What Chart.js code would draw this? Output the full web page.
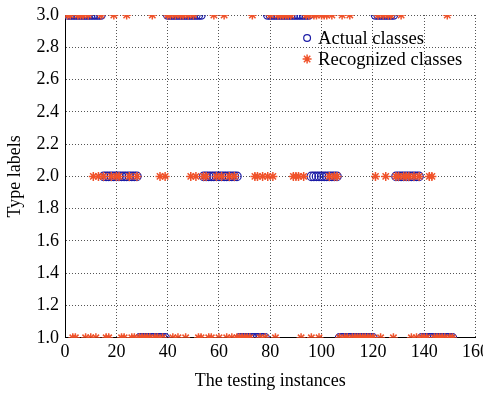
<!DOCTYPE html>
<html>
<head>
<meta charset="utf-8">
<script src="https://cdn.jsdelivr.net/npm/chart.js@4"></script>
<style>
  html, body { margin: 0; padding: 0; background: #fff; overflow: hidden; }
  #wrap { width: 493px; height: 393px; }
</style>
</head>
<body>
<div id="wrap"><canvas id="classChart"></canvas></div>
<script>
// Class of each testing instance (instance number = position + 1)
const actualClasses = [
    3,3,3,3,3,3,3,3,3,3,
    3,3,3,3,2,2,2,2,2,2,
    2,2,2,2,2,2,2,2,1,1,
    1,1,1,1,1,1,1,1,1,3,
    3,3,3,3,3,3,3,3,3,3,
    3,3,3,2,2,2,2,2,2,2,
    2,2,2,2,2,2,2,1,1,1,
    1,1,1,1,1,1,1,1,3,3,
    3,3,3,3,3,3,3,3,3,3,
    3,3,3,3,3,2,2,2,2,2,
    2,2,2,2,2,2,1,1,1,1,
    1,1,1,1,1,1,1,1,1,1,
    3,3,3,3,3,3,3,3,2,2,
    2,2,2,2,2,2,2,2,1,1,
    1,1,1,1,1,1,1,1,1,1,
    1
];

const recognizedClasses = [
    3,3,1,1,3,3,3,1,3,1,
    2,1,2,3,2,1,1,2,3,2,
    2,1,1,3,2,1,1,2,1,1,
    1,1,1,3,1,1,2,1,2,3,
    3,1,3,1,3,3,1,3,2,3,
    2,1,1,2,2,1,1,3,2,1,
    2,3,1,2,1,2,1,1,1,1,
    1,1,3,2,2,1,2,1,2,3,
    2,1,3,3,3,3,3,3,2,2,
    2,1,2,3,3,1,3,3,1,3,
    3,3,2,3,2,2,1,3,1,1,
    3,1,1,1,1,1,1,1,1,1,
    2,3,1,3,2,3,3,1,2,2,
    3,2,2,2,1,2,1,2,1,1,
    1,2,2,1,1,1,1,1,3,1,
    1
];

const seriesNames = ['Actual classes', 'Recognized classes'];
const xTicks = [0, 20, 40, 60, 80, 100, 120, 140, 160];
const yTicks = [1.0, 1.2, 1.4, 1.6, 1.8, 2.0, 2.2, 2.4, 2.6, 2.8, 3.0];

const blue = '#1c1ca6';
const red = '#f0522a';
const serif = '"Liberation Serif", "Times New Roman", serif';

function toPoints(classes) {
    return classes.map((c, i) => ({ x: i + 1, y: c }));
}

// Legend drawn inside the plot area, top right, without a frame
const insideLegend = {
    id: 'insideLegend',
    afterDatasetsDraw(chart) {
        const ctx = chart.ctx;
        const area = chart.chartArea;
        const x = area.left + 242;
        const rows = [area.top + 23, area.top + 44];
        ctx.save();
        ctx.textBaseline = 'middle';
        chart.data.datasets.forEach((ds, i) => {
            ctx.fillStyle = ds.backgroundColor;
            ctx.strokeStyle = ds.borderColor;
            ctx.lineWidth = ds.borderWidth;
            Chart.helpers.drawPoint(ctx, {
                pointStyle: ds.pointStyle,
                radius: i === 0 ? 3.4 : ds.pointRadius,
                borderWidth: ds.borderWidth
            }, x, rows[i]);
            ctx.font = '18.6px ' + serif;
            ctx.fillStyle = '#000';
            ctx.fillText(seriesNames[i], x + 11, rows[i] + 1);
        });
        ctx.restore();
    }
};

const ctx = document.getElementById('classChart').getContext('2d');
new Chart(ctx, {
    type: 'scatter',
    data: {
        datasets: [{
            label: seriesNames[0],
            data: toPoints(actualClasses),
            pointStyle: 'circle',
            pointRadius: 4.2,
            borderWidth: 1.2,
            borderColor: blue,
            backgroundColor: 'rgba(0,0,0,0)',
            order: 2
        }, {
            label: seriesNames[1],
            data: toPoints(recognizedClasses),
            pointStyle: 'star',
            pointRadius: 4.5,
            borderWidth: 1.5,
            borderColor: red,
            backgroundColor: red,
            order: 1
        }]
    },
    options: {
        responsive: true,
        maintainAspectRatio: false,
        animation: false,
        layout: { padding: { left: 4, right: 0, top: 3, bottom: 1 } },
        plugins: {
            legend: { display: false },
            tooltip: { enabled: false }
        },
        scales: {
            x: {
                type: 'linear',
                min: 0,
                max: 160,
                afterBuildTicks: axis => { axis.ticks = xTicks.map(v => ({ value: v })); },
                ticks: { color: '#000', font: { family: serif, size: 18 }, padding: 4, maxRotation: 0 },
                grid: { color: '#555', drawTicks: false },
                border: { display: true, color: '#000', width: 1, dash: [1, 2] },
                title: { display: true, text: 'The testing instances', color: '#000', font: { family: serif, size: 18 }, padding: { top: 3, bottom: 0 } }
            },
            y: {
                type: 'linear',
                min: 1,
                max: 3,
                afterBuildTicks: axis => { axis.ticks = yTicks.map(v => ({ value: v })); },
                ticks: { color: '#000', font: { family: serif, size: 18, lineHeight: 1 }, padding: 6, callback: v => v.toFixed(1) },
                grid: { color: '#555', drawTicks: false },
                border: { display: true, color: '#000', width: 1, dash: [1, 2] },
                title: { display: true, text: 'Type labels', color: '#000', font: { family: serif, size: 18 }, padding: { top: 0, bottom: 5 } }
            }
        }
    },
    plugins: [insideLegend]
});
</script>
</body>
</html>
